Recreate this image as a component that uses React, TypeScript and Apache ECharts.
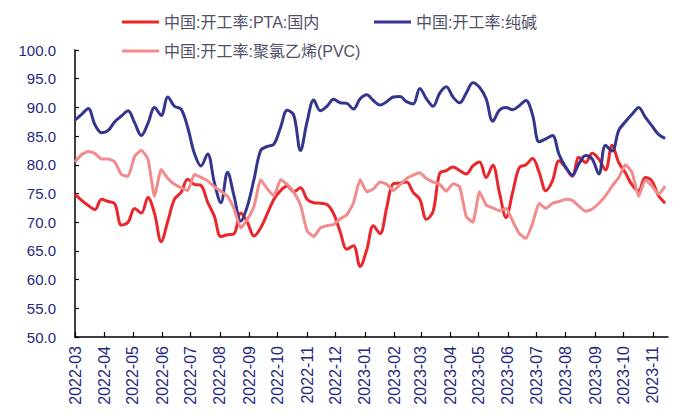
import React, { useEffect, useRef } from 'react';
import * as echarts from 'echarts';

// Weekly observations, first week starting 2022-03-01
const START_DATE = '2022-03-01';
const WEEK_DAYS = 7;
const AXIS_END_DATE = '2023-11-17';

const MONTH_LABELS = [
  '2022-03', '2022-04', '2022-05', '2022-06', '2022-07', '2022-08', '2022-09',
  '2022-10', '2022-11', '2022-12', '2023-01', '2023-02', '2023-03', '2023-04',
  '2023-05', '2023-06', '2023-07', '2023-08', '2023-09', '2023-10', '2023-11',
];

const Y_TICKS = [50, 55, 60, 65, 70, 75, 80, 85, 90, 95, 100];

const NAME_PTA = '中国:开工率:PTA:国内';
const NAME_SODA = '中国:开工率:纯碱';
const NAME_PVC = '中国:开工率:聚氯乙烯(PVC)';

const PTA = [
  74.9, 73.8, 72.9, 72.2, 74.0, 73.6, 73.2, 69.5, 70.0, 72.4,
  71.6, 74.3, 71.5, 66.6, 70.2, 74.0, 75.2, 77.5, 76.6, 76.4,
  73.5, 71.1, 67.5, 67.8, 68.0, 71.6, 70.0, 67.6, 69.0, 71.5,
  74.0, 75.5, 76.3, 75.3, 76.0, 74.0, 73.4, 73.3, 73.1, 71.5,
  68.3, 65.3, 65.9, 62.3, 65.2, 69.4, 68.0, 72.5, 76.7, 76.8,
  77.0, 75.2, 74.0, 70.5, 71.9, 78.5, 79.0, 79.6, 79.0, 78.4,
  79.8, 80.5, 77.8, 79.9, 75.2, 70.8, 75.2, 79.5, 80.0, 81.1,
  78.7, 75.5, 77.2, 80.7, 79.5, 78.0, 81.3, 80.4, 82.0, 81.0,
  79.1, 83.4, 80.4, 78.6, 76.5, 75.5, 77.8, 77.2, 74.6, 73.3,
];

const SODA = [
  87.8, 88.8, 89.8, 87.0, 85.6, 86.0, 87.5, 88.5, 89.4, 87.3,
  85.1, 87.2, 90.0, 88.6, 91.8, 90.2, 89.7, 86.5, 82.0, 79.8,
  81.9, 77.0, 73.4, 78.7, 74.5, 70.2, 72.8, 77.5, 82.5, 83.2,
  83.6, 86.5, 89.5, 88.6, 82.5, 87.5, 91.3, 89.4, 90.2, 91.4,
  90.8, 90.7, 89.7, 91.5, 92.2, 91.2, 90.4, 91.0, 91.8, 91.9,
  91.0, 90.6, 93.3, 91.5, 90.2, 92.5, 93.6, 91.8, 90.8, 92.5,
  94.3, 93.5, 91.5, 87.6, 89.5, 90.0, 89.6, 90.3, 91.2, 88.7,
  84.0, 84.5, 85.1, 81.8, 79.6, 78.2, 80.2, 81.6, 81.0, 78.4,
  83.4, 82.4, 86.0, 87.5, 88.8, 90.0, 88.3, 86.8, 85.3, 84.6,
];

const PVC = [
  80.5, 81.8, 82.3, 82.0, 81.0, 81.0, 80.5, 78.3, 78.0, 81.5,
  82.5, 81.0, 74.5, 79.2, 77.6, 76.6, 76.0, 75.5, 78.3, 77.8,
  77.2, 76.2, 75.4, 74.5, 72.3, 69.0, 70.5, 72.8, 77.4, 75.8,
  74.6, 77.4, 76.6, 75.2, 73.0, 68.5, 67.5, 69.0, 69.4, 69.6,
  70.6, 71.3, 73.4, 77.4, 75.3, 75.8, 77.0, 76.6, 75.5, 76.5,
  77.6, 78.2, 78.6, 77.6, 77.0, 76.6, 75.4, 76.7, 76.2, 71.0,
  70.0, 75.3, 73.0, 72.5, 72.0, 72.4, 70.2, 68.0, 67.2, 69.8,
  73.3, 72.4, 73.3, 73.6, 74.0, 73.8, 72.8, 71.9, 72.3, 73.3,
  74.6, 76.3, 77.8, 80.0, 78.7, 74.5, 77.3, 76.3, 74.9, 76.3,
];

const DAY_MS = 86400000;
const toDays = (iso: string) =>
  Math.round((Date.parse(iso + (iso.length === 7 ? '-01' : '') + 'T00:00:00Z') - Date.parse(START_DATE + 'T00:00:00Z')) / DAY_MS);

const MONTH_DAYS = MONTH_LABELS.map((m) => toDays(m));
const AXIS_MAX = toDays(AXIS_END_DATE);

const toSeries = (vals: number[]) => vals.map((v, i) => [i * WEEK_DAYS, v]);

const FONT = '"Liberation Sans", Arial, "Noto Sans CJK SC", sans-serif';
const AXIS_TEXT = '#26287f';
const LEGEND_TEXT = '#505068';

export default function App() {
  const ref = useRef<HTMLDivElement>(null);
  useEffect(() => {
    const chart = echarts.init(ref.current!, null, { renderer: 'svg' });
    const legendBase = {
      icon: 'rect',
      itemWidth: 37,
      itemHeight: 3,
      textStyle: { fontFamily: FONT, fontSize: 16, color: LEGEND_TEXT },
      selectedMode: false,
    };
    chart.setOption({
      animation: false,
      backgroundColor: '#ffffff',
      textStyle: { fontFamily: FONT },
      grid: { left: 75, right: 10, top: 50, bottom: 77 },
      legend: [
        { ...legendBase, data: [NAME_PTA], left: 117, top: 9 },
        { ...legendBase, data: [NAME_SODA], left: 369, top: 9 },
        { ...legendBase, data: [NAME_PVC], left: 117, top: 38 },
      ],
      xAxis: {
        type: 'value',
        min: 0,
        max: AXIS_MAX,
        splitLine: { show: false },
        axisLine: { show: true, lineStyle: { color: '#000000', width: 1.5 } },
        axisTick: {
          show: true,
          inside: true,
          length: 5,
          customValues: MONTH_DAYS,
          lineStyle: { color: '#000000', width: 1.2 },
        },
        axisLabel: {
          customValues: MONTH_DAYS,
          rotate: 90,
          margin: 9,
          color: AXIS_TEXT,
          fontFamily: FONT,
          fontSize: 16,
          formatter: (v: number) => {
            const idx = MONTH_DAYS.indexOf(Math.round(v));
            return idx >= 0 ? MONTH_LABELS[idx] : '';
          },
        },
      },
      yAxis: {
        type: 'value',
        min: Y_TICKS[0],
        max: Y_TICKS[Y_TICKS.length - 1],
        interval: Y_TICKS[1] - Y_TICKS[0],
        splitLine: { show: false },
        axisLine: { show: true, lineStyle: { color: '#000000', width: 1.5 } },
        axisTick: { show: true, inside: true, length: 4, lineStyle: { color: '#000000', width: 1.2 } },
        axisLabel: {
          color: AXIS_TEXT,
          fontFamily: FONT,
          fontSize: 15,
          margin: 19,
          formatter: (v: number) => v.toFixed(1),
        },
      },
      series: [
        {
          name: NAME_PTA,
          type: 'line',
          data: toSeries(PTA),
          showSymbol: false,
          symbol: 'none',
          smooth: 0.35,
          lineStyle: { color: '#e8262b', width: 3 },
          itemStyle: { color: '#e8262b' },
        },
        {
          name: NAME_SODA,
          type: 'line',
          data: toSeries(SODA),
          showSymbol: false,
          symbol: 'none',
          smooth: 0.35,
          lineStyle: { color: '#34358f', width: 3 },
          itemStyle: { color: '#34358f' },
        },
        {
          name: NAME_PVC,
          type: 'line',
          data: toSeries(PVC),
          showSymbol: false,
          symbol: 'none',
          smooth: 0.15,
          lineStyle: { color: '#f28b8b', width: 3 },
          itemStyle: { color: '#f28b8b' },
        },
      ],
    });
    return () => chart.dispose();
  }, []);
  return (
    <div
      ref={ref}
      style={{ position: 'fixed', left: 0, top: 0, width: 678, height: 414, background: '#fff' }}
    />
  );
}
